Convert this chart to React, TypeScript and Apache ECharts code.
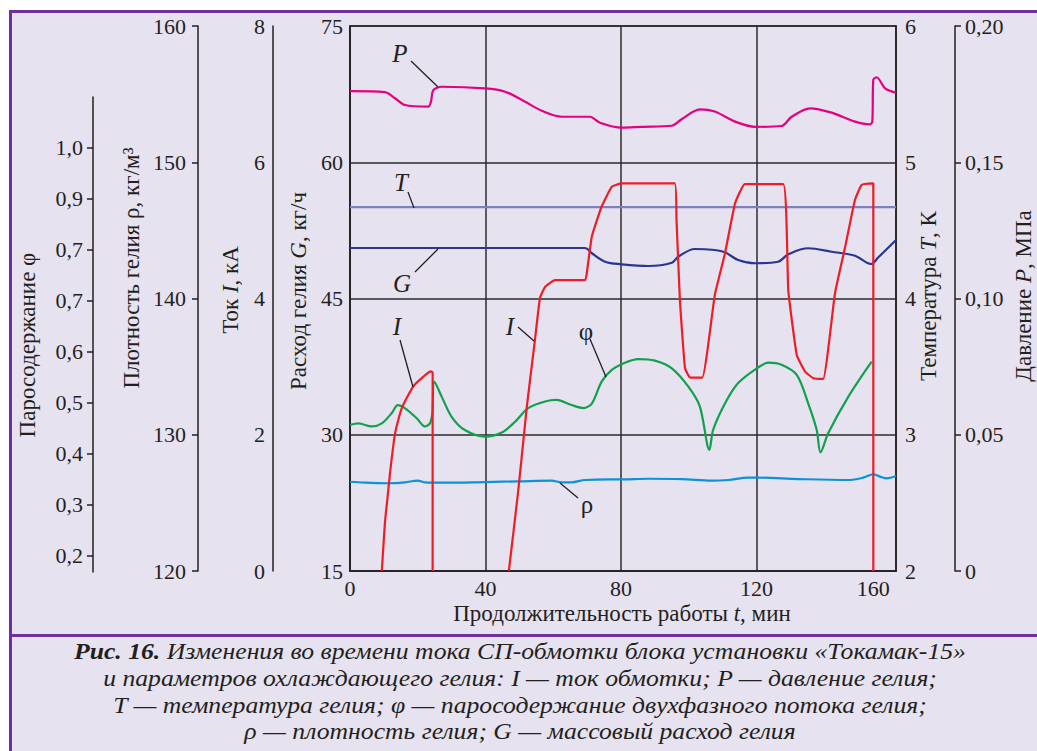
import React, { useEffect, useRef } from "react";
import * as echarts from "echarts";

// ---- Data (time t in minutes) ----
const timeTickValues = [0, 40, 80, 120, 154.5];
const timeTickLabels = ["0", "40", "80", "120", "160"];
const phiTickValues = [0.2, 0.3, 0.4, 0.5, 0.6, 0.7, 0.8, 0.9, 1.0];
const phiTickLabels = ["0,2", "0,3", "0,4", "0,5", "0,6", "0,7", "0,7", "0,9", "1,0"];
const pressureTickLabels = ["0", "0,05", "0,10", "0,15", "0,20"];

const pressure: number[][] = [
  [0, 0.1761], [10.3, 0.1757], [13.3, 0.1735], [16.2, 0.171], [23.1, 0.1704], [23.9, 0.1722],
  [24.6, 0.1765], [27.1, 0.1777], [39.9, 0.1771], [45.8, 0.1759], [51.7, 0.1722], [56.6, 0.1689],
  [62.5, 0.1667], [70.8, 0.1667], [73.8, 0.1645], [80.2, 0.1627], [86.1, 0.163], [95.0, 0.1634],
  [97.9, 0.1658], [103.3, 0.1694], [107.7, 0.1686], [113.7, 0.1649], [119.6, 0.163], [127.4, 0.1633],
  [130.4, 0.1667], [135.8, 0.1698], [142.2, 0.1682], [149.1, 0.1649], [153.5, 0.1639], [154.2, 0.1649],
  [154.5, 0.1802], [155.5, 0.1812], [158, 0.1771], [161.2, 0.1755],
];

const temperature: number[][] = [[0, 4.67], [161.2, 4.67]];

const flowG: number[][] = [
  [0, 50.56], [69.4, 50.56], [71.4, 49.98], [75.3, 49.05], [80.2, 48.77], [88.1, 48.58], [95.0, 48.94],
  [96.9, 49.6], [101.8, 50.45], [107.7, 50.34], [110.7, 50.09], [114.6, 49.24], [119.6, 48.88],
  [126.4, 49.05], [129.4, 49.87], [135.3, 50.53], [142.2, 50.15], [149.1, 49.71], [153.8, 48.8],
  [156.0, 49.54], [161.2, 51.44],
];

const currentRun1: number[][] = [
  [9.4, 0], [10.3, 0.7], [11.1, 1.09], [11.8, 1.43], [13.3, 2.02], [15.3, 2.39], [18.7, 2.71],
  [21.6, 2.85], [23.9, 2.93], [24.4, 2.91], [24.4, 0],
];

const currentRun2: number[][] = [
  [46.9, 0], [49.7, 1.19], [52.2, 2.41], [54.6, 3.39], [56.1, 4.01], [57.6, 4.17], [60.5, 4.27],
  [69.4, 4.27], [69.9, 4.37], [71.4, 4.91], [74.3, 5.35], [77.3, 5.64], [80.2, 5.69], [95.9, 5.69],
  [96.4, 5.15], [97.4, 3.98], [98.9, 2.98], [100.4, 2.84], [104.0, 2.84], [107.7, 4.05], [110.7, 4.66],
  [113.7, 5.4], [116.6, 5.68], [127.9, 5.68], [129.4, 4.12], [131.9, 3.17], [134.3, 2.93], [136.8, 2.83],
  [139.7, 2.82], [143.2, 4.08], [146.2, 4.76], [149.1, 5.45], [151.1, 5.67], [154.5, 5.69], [154.5, 0],
];

const vaporPhi: number[][] = [
  [0, 0.457], [2.5, 0.46], [6.4, 0.454], [9.4, 0.46], [12.3, 0.48], [14.1, 0.496], [16.2, 0.49],
  [19.7, 0.47], [22.1, 0.454], [23.6, 0.46], [24.3, 0.48], [24.9, 0.542], [27.1, 0.512], [30.0, 0.473],
  [33.9, 0.447], [39.9, 0.434], [44.8, 0.442], [48.7, 0.463], [52.6, 0.49], [57.6, 0.503], [61.0, 0.506],
  [65.4, 0.496], [68.9, 0.49], [71.4, 0.499], [74.3, 0.542], [77.3, 0.565], [81.2, 0.579], [85.1, 0.586],
  [90.0, 0.583], [95.0, 0.568], [99.9, 0.532], [103.3, 0.493], [106.1, 0.408], [107.2, 0.447],
  [110.7, 0.499], [114.6, 0.539], [120.1, 0.568], [123.5, 0.579], [127.4, 0.575], [131.9, 0.555],
  [135.3, 0.499], [137.8, 0.447], [138.9, 0.403], [141.2, 0.441], [147.1, 0.512], [154.0, 0.581],
];

const densityRho: number[][] = [
  [0, 126.55], [4.4, 126.48], [11.3, 126.44], [16.2, 126.51], [20.0, 126.63], [22.1, 126.51],
  [28.0, 126.48], [39.9, 126.53], [49.7, 126.58], [59.5, 126.63], [62.5, 126.51], [65.4, 126.51],
  [69.4, 126.68], [81.2, 126.73], [88.1, 126.77], [97.9, 126.75], [106.8, 126.63], [111.7, 126.68],
  [117.6, 126.85], [120.5, 126.85], [132.3, 126.75], [147.1, 126.68], [151.5, 126.85], [154.5, 127.1],
  [157.0, 126.88], [158.4, 126.8], [161.2, 126.97],
];

// ---- Styling ----
const SERIF = '"Liberation Serif", "Times New Roman", serif';
const INK = "#231f20";
const GRIDLINE = "#2b2b2b";
const BG = "#e7e2ef";
const PURPLE = "#6f2f9f";
const NAME_SIZE = 23;
const CAPTION_SIZE = 24;

const labelStyle = { fontFamily: SERIF, fontSize: 22, color: INK };

function lookup(values: number[], labels: string[], v: number) {
  for (let i = 0; i < values.length; i++) {
    if (Math.abs(values[i] - v) < 1e-6) return labels[i];
  }
  return "";
}

function axisName(x: number, y: number, text: string, rotation: number) {
  return {
    type: "text",
    x,
    y,
    rotation,
    z: 100,
    style: {
      text,
      fontFamily: SERIF,
      fontSize: NAME_SIZE,
      fill: INK,
      align: "center",
      verticalAlign: "middle",
      rich: {
        i: { fontFamily: SERIF, fontSize: NAME_SIZE, fontStyle: "italic", fill: INK },
      },
    },
  };
}

function note(x: number, y: number, text: string, italic: boolean) {
  return {
    type: "text",
    x,
    y,
    z: 100,
    style: {
      text,
      fontFamily: SERIF,
      fontSize: 25,
      fontStyle: italic ? "italic" : "normal",
      fill: INK,
      align: "center",
      verticalAlign: "middle",
    },
  };
}

function leader(x1: number, y1: number, x2: number, y2: number) {
  return {
    type: "line",
    z: 100,
    shape: { x1, y1, x2, y2 },
    style: { stroke: INK, lineWidth: 1.3 },
  };
}

function captionLine(y: number, text: string) {
  return {
    type: "text",
    x: 520,
    y,
    scaleX: 1.07,
    z: 100,
    style: {
      text,
      fontFamily: SERIF,
      fontSize: CAPTION_SIZE,
      lineHeight: 24,
      fontStyle: "italic",
      fill: INK,
      align: "center",
      verticalAlign: "middle",
      rich: {
        b: { fontFamily: SERIF, fontSize: CAPTION_SIZE, lineHeight: 24, fontStyle: "italic", fontWeight: "bold", fill: INK },
      },
    },
  };
}

export default function App() {
  const ref = useRef<HTMLDivElement>(null);

  useEffect(() => {
    if (!ref.current) return;
    const chart = echarts.init(ref.current, null, { renderer: "svg" });

    const lineSeries = (name: string, data: number[][], color: string, yAxisIndex: number, extra: any = {}) => ({
      name,
      type: "line",
      data,
      xAxisIndex: 0,
      yAxisIndex,
      symbol: "none",
      smooth: 0.35,
      lineStyle: { color, width: 2.2 },
      itemStyle: { color },
      silent: true,
      ...extra,
    });

    const option: any = {
      animation: false,
      backgroundColor: BG,
      grid: [
        { left: 350, top: 26, width: 546, height: 545, show: true, borderColor: INK, borderWidth: 1.5, backgroundColor: "transparent" },
        { left: 350, top: 97, width: 546, height: 475, show: false },
      ],
      xAxis: [
        {
          gridIndex: 0,
          type: "value",
          min: 0,
          max: 161.2,
          interval: 40,
          axisLine: { show: true, lineStyle: { color: INK, width: 1.5 } },
          axisTick: { show: false },
          axisLabel: {
            ...labelStyle,
            margin: 6,
            customValues: timeTickValues,
            formatter: (v: number) => lookup(timeTickValues, timeTickLabels, v),
          },
          splitLine: {
            show: true,
            lineStyle: {
              color: [GRIDLINE, GRIDLINE, GRIDLINE, GRIDLINE, "rgba(0,0,0,0)", "rgba(0,0,0,0)"],
              width: 1.5,
            },
          },
        },
        { gridIndex: 1, type: "value", min: 0, max: 161.2, show: false },
      ],
      yAxis: [
        {
          gridIndex: 0, type: "value", position: "left", offset: 0, min: 15, max: 75, interval: 15,
          axisLine: { show: true, lineStyle: { color: INK, width: 1.5 } },
          axisTick: { show: false },
          axisLabel: { ...labelStyle, margin: 7 },
          splitLine: { show: true, lineStyle: { color: GRIDLINE, width: 1.5 } },
        },
        {
          gridIndex: 0, type: "value", position: "left", offset: 77, min: 0, max: 8, interval: 2,
          axisLine: { show: true, onZero: false, lineStyle: { color: INK, width: 1.5 } },
          axisTick: { show: false },
          axisLabel: { ...labelStyle, margin: 8 },
          splitLine: { show: false },
        },
        {
          gridIndex: 0, type: "value", position: "left", offset: 152, min: 120, max: 160, interval: 10,
          axisLine: { show: true, onZero: false, lineStyle: { color: INK, width: 1.5 } },
          axisTick: { show: true, length: 6, lineStyle: { color: INK, width: 1.5 } },
          axisLabel: { ...labelStyle, margin: 12 },
          splitLine: { show: false },
        },
        {
          gridIndex: 0, type: "value", position: "right", offset: 0, min: 2, max: 6, interval: 1,
          axisLine: { show: true, onZero: false, lineStyle: { color: INK, width: 1.5 } },
          axisTick: { show: false },
          axisLabel: { ...labelStyle, margin: 9 },
          splitLine: { show: false },
        },
        {
          gridIndex: 0, type: "value", position: "right", offset: 59, min: 0, max: 0.2, interval: 0.05,
          axisLine: { show: true, onZero: false, lineStyle: { color: INK, width: 1.5 } },
          axisTick: { show: true, length: 6, lineStyle: { color: INK, width: 1.5 } },
          axisLabel: {
            ...labelStyle,
            margin: 10,
            formatter: (v: number) => pressureTickLabels[Math.round(v / 0.05)] ?? "",
          },
          splitLine: { show: false },
        },
        {
          gridIndex: 1, type: "value", position: "left", offset: 257, min: 0.1686, max: 1.1,
          axisLine: { show: true, onZero: false, lineStyle: { color: INK, width: 1.5 } },
          axisTick: { show: true, length: 6, customValues: phiTickValues, lineStyle: { color: INK, width: 1.5 } },
          axisLabel: {
            ...labelStyle,
            margin: 10,
            customValues: phiTickValues,
            formatter: (v: number) => lookup(phiTickValues, phiTickLabels, v),
          },
          splitLine: { show: false },
        },
      ],
      series: [
        lineSeries("T", temperature, "#7f80c0", 3, { smooth: false }),
        lineSeries("G", flowG, "#2a3592", 0),
        lineSeries("P", pressure, "#e4007f", 4, { smooth: 0.3 }),
        lineSeries("ρ", densityRho, "#0b93d9", 2),
        { ...lineSeries("φ", vaporPhi, "#11a04c", 5, { smooth: 0.3 }), xAxisIndex: 1 },
        lineSeries("I", currentRun1, "#ee1d25", 1, { smooth: 0.2 }),
        lineSeries("I ", currentRun2, "#ee1d25", 1, { smooth: 0.12 }),
      ],
      graphic: [
        // page frame
        { type: "rect", z: 90, shape: { x: 0, y: 0, width: 1037, height: 10 }, style: { fill: "#ffffff" } },
        { type: "rect", z: 90, shape: { x: 0, y: 0, width: 9, height: 751 }, style: { fill: "#ffffff" } },
        { type: "line", z: 91, shape: { x1: 9, y1: 11.5, x2: 1037, y2: 11.5 }, style: { stroke: PURPLE, lineWidth: 3 } },
        { type: "line", z: 91, shape: { x1: 10.5, y1: 10, x2: 10.5, y2: 751 }, style: { stroke: PURPLE, lineWidth: 3 } },
        { type: "line", z: 91, shape: { x1: 10, y1: 635.5, x2: 1037, y2: 635.5 }, style: { stroke: PURPLE, lineWidth: 3 } },

        // axis names
        axisName(27, 345, "Паросодержание φ", Math.PI / 2),
        axisName(131, 268, "Плотность гелия ρ, кг/м³", Math.PI / 2),
        axisName(230, 290, "Ток {i|I}, кА", Math.PI / 2),
        axisName(298, 291, "Расход гелия {i|G}, кг/ч", Math.PI / 2),
        axisName(928, 296, "Температура {i|T}, К", Math.PI / 2),
        axisName(1023, 296, "Давление {i|P}, МПа", Math.PI / 2),
        axisName(622, 613, "Продолжительность работы {i|t}, мин", 0),

        // curve annotations
        note(400, 53, "P", true), leader(411, 61, 438, 87),
        note(401, 182, "T", true), leader(408, 192, 414, 208),
        note(402, 283, "G", true), leader(415, 272, 438, 249),
        note(397, 326, "I", true), leader(400, 340, 413, 387),
        note(510, 326, "I", true), leader(518, 327, 534, 341),
        note(586, 331, "φ", false), leader(590, 339, 606, 377),
        note(587, 504, "ρ", false), leader(578, 498, 560, 483),

        // caption
        captionLine(651, "{b|Рис. 16.} Изменения во времени тока СП-обмотки блока установки «Токамак-15»"),
        captionLine(677.7, "и параметров охлаждающего гелия: I — ток обмотки; P — давление гелия;"),
        captionLine(704.4, "T — температура гелия; φ — паросодержание двухфазного потока гелия;"),
        captionLine(731.1, "ρ — плотность гелия; G — массовый расход гелия"),
      ],
    };

    chart.setOption(option);
    return () => chart.dispose();
  }, []);

  return <div ref={ref} style={{ position: "fixed", left: 0, top: 0, width: 1037, height: 751 }} />;
}
